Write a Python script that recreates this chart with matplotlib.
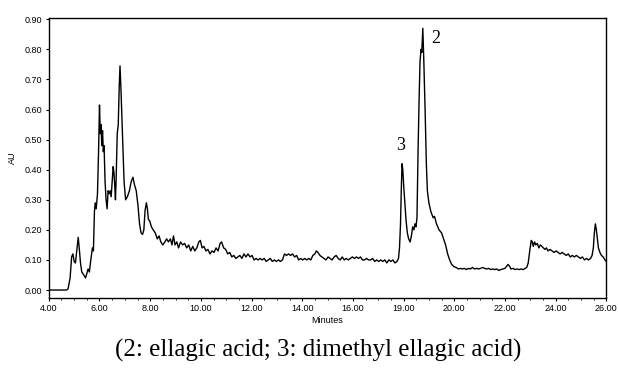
import matplotlib
matplotlib.use('Agg')
import matplotlib.pyplot as plt
from matplotlib.ticker import MultipleLocator

# retention time (min) and absorbance (AU)
minutes = [4.00, 4.70, 4.76, 4.84, 4.90, 4.95, 5.00, 5.05, 5.10, 5.16, 5.20, 5.25,
           5.30, 5.38, 5.45, 5.50, 5.55, 5.60, 5.65, 5.72, 5.76, 5.80, 5.83, 5.87,
           5.92, 5.96, 6.00, 6.03, 6.06, 6.09, 6.12, 6.15, 6.18, 6.22, 6.26, 6.30,
           6.34, 6.38, 6.42, 6.46, 6.50, 6.54, 6.57, 6.60, 6.63, 6.66, 6.70, 6.74,
           6.78, 6.81, 6.85, 6.89, 6.93, 6.97, 7.03, 7.10, 7.18, 7.25, 7.32, 7.38,
           7.45, 7.52, 7.58, 7.64, 7.70, 7.75, 7.80, 7.85, 7.89, 7.93, 7.98, 8.05,
           8.12, 8.20, 8.28, 8.35, 8.42, 8.50, 8.58, 8.65, 8.72, 8.80, 8.86, 8.92,
           8.98, 9.05, 9.12, 9.20, 9.28, 9.36, 9.44, 9.52, 9.60, 9.68, 9.76, 9.84,
           9.92, 9.98, 10.05, 10.12, 10.20, 10.28, 10.36, 10.44, 10.52, 10.60, 10.68,
           10.76, 10.82, 10.90, 10.98, 11.06, 11.14, 11.22, 11.30, 11.38, 11.46,
           11.54, 11.62, 11.70, 11.78, 11.86, 11.94, 12.02, 12.10, 12.18, 12.26,
           12.34, 12.42, 12.50, 12.58, 12.66, 12.74, 12.82, 12.90, 12.98, 13.06,
           13.14, 13.22, 13.30, 13.38, 13.46, 13.54, 13.62, 13.70, 13.78, 13.86,
           13.94, 14.02, 14.10, 14.18, 14.26, 14.34, 14.42, 14.50, 14.56, 14.62,
           14.70, 14.78, 14.86, 14.94, 15.02, 15.10, 15.18, 15.26, 15.34, 15.42,
           15.50, 15.58, 15.66, 15.74, 15.82, 15.90, 15.98, 16.06, 16.14, 16.22,
           16.30, 16.38, 16.46, 16.54, 16.62, 16.70, 16.78, 16.86, 16.94, 17.02,
           17.10, 17.18, 17.26, 17.34, 17.42, 17.50, 17.58, 17.66, 17.74, 17.80,
           17.84, 17.88, 17.91, 17.94, 17.97, 18.01, 18.05, 18.10, 18.15, 18.20,
           18.26, 18.31, 18.36, 18.41, 18.45, 18.49, 18.53, 18.57, 18.61, 18.65,
           18.69, 18.72, 18.76, 18.80, 18.85, 18.90, 18.94, 19.00, 19.08, 19.17,
           19.22, 19.30, 19.40, 19.50, 19.58, 19.66, 19.74, 19.82, 19.90, 20.00,
           20.08, 20.16, 20.24, 20.32, 20.40, 20.48, 20.56, 20.64, 20.72, 20.80,
           20.88, 20.96, 21.04, 21.12, 21.20, 21.28, 21.36, 21.44, 21.52, 21.60,
           21.68, 21.76, 21.84, 21.92, 22.00, 22.06, 22.12, 22.18, 22.24, 22.32,
           22.40, 22.48, 22.56, 22.64, 22.72, 22.80, 22.86, 22.92, 22.98, 23.04,
           23.08, 23.12, 23.17, 23.22, 23.28, 23.34, 23.40, 23.46, 23.52, 23.58,
           23.64, 23.70, 23.78, 23.86, 23.94, 24.02, 24.10, 24.18, 24.26, 24.34,
           24.42, 24.50, 24.58, 24.66, 24.74, 24.82, 24.90, 24.98, 25.06, 25.14,
           25.22, 25.30, 25.38, 25.44, 25.49, 25.53, 25.57, 25.61, 25.65, 25.69,
           25.75, 25.81, 25.88, 25.95, 26.00]
au = [0.000, 0.000, 0.004, 0.040, 0.110, 0.120, 0.095, 0.090, 0.130, 0.175, 0.140, 0.090,
      0.060, 0.050, 0.040, 0.055, 0.070, 0.060, 0.095, 0.140, 0.130, 0.260, 0.290, 0.270,
      0.320, 0.450, 0.615, 0.520, 0.550, 0.480, 0.530, 0.460, 0.480, 0.360, 0.300, 0.270,
      0.330, 0.320, 0.330, 0.310, 0.360, 0.410, 0.390, 0.350, 0.300, 0.380, 0.520, 0.550,
      0.680, 0.745, 0.660, 0.560, 0.450, 0.360, 0.300, 0.310, 0.330, 0.360, 0.375, 0.350,
      0.330, 0.280, 0.220, 0.190, 0.185, 0.200, 0.265, 0.290, 0.270, 0.235, 0.230, 0.210,
      0.200, 0.190, 0.170, 0.180, 0.160, 0.150, 0.160, 0.170, 0.160, 0.170, 0.150, 0.180,
      0.150, 0.160, 0.140, 0.160, 0.150, 0.155, 0.140, 0.150, 0.130, 0.145, 0.130, 0.140,
      0.160, 0.165, 0.140, 0.145, 0.130, 0.135, 0.120, 0.130, 0.125, 0.140, 0.130,
      0.155, 0.160, 0.140, 0.135, 0.120, 0.125, 0.110, 0.115, 0.105, 0.110,
      0.115, 0.105, 0.120, 0.110, 0.120, 0.110, 0.115, 0.100, 0.105, 0.100,
      0.105, 0.100, 0.105, 0.095, 0.100, 0.105, 0.095, 0.100, 0.095, 0.100,
      0.095, 0.100, 0.120, 0.115, 0.120, 0.115, 0.120, 0.110, 0.115, 0.100,
      0.105, 0.100, 0.105, 0.100, 0.105, 0.100, 0.115, 0.120, 0.130, 0.125,
      0.115, 0.110, 0.105, 0.100, 0.110, 0.105, 0.100, 0.110, 0.115, 0.105,
      0.100, 0.110, 0.100, 0.105, 0.100, 0.105, 0.110, 0.105, 0.110, 0.105,
      0.110, 0.100, 0.100, 0.105, 0.100, 0.100, 0.105, 0.095, 0.100, 0.095,
      0.100, 0.095, 0.100, 0.090, 0.100, 0.095, 0.100, 0.090, 0.095, 0.105,
      0.140, 0.220, 0.330, 0.420, 0.400, 0.340, 0.290, 0.230, 0.190, 0.170,
      0.160, 0.180, 0.210, 0.200, 0.220, 0.210, 0.240, 0.450, 0.620, 0.760,
      0.800, 0.790, 0.870, 0.760, 0.600, 0.420, 0.330, 0.290, 0.260, 0.240,
      0.245, 0.220, 0.200, 0.190, 0.170, 0.150, 0.120, 0.100, 0.085, 0.077,
      0.075, 0.070, 0.072, 0.070, 0.072, 0.068, 0.072, 0.070, 0.075, 0.070,
      0.072, 0.070, 0.072, 0.075, 0.072, 0.070, 0.072, 0.068, 0.070, 0.068,
      0.070, 0.065, 0.068, 0.070, 0.072, 0.078, 0.085, 0.080, 0.070, 0.072,
      0.068, 0.070, 0.068, 0.070, 0.068, 0.072, 0.075, 0.090, 0.130, 0.165,
      0.160, 0.145, 0.160, 0.150, 0.155, 0.140, 0.150, 0.145, 0.140, 0.135,
      0.140, 0.130, 0.135, 0.130, 0.125, 0.130, 0.125, 0.120, 0.125, 0.120,
      0.115, 0.120, 0.110, 0.115, 0.110, 0.115, 0.110, 0.105, 0.110, 0.100,
      0.105, 0.100, 0.105, 0.115, 0.140, 0.190, 0.220, 0.200, 0.170, 0.140,
      0.125, 0.115, 0.110, 0.100, 0.095]

x_ticks = [4, 6, 8, 10, 12, 14, 16, 18, 20, 22, 24, 26]
x_labels = ['4.00', '6.00', '8.00', '10.00', '12.00', '14.00', '16.00',
            '19.00', '20.00', '22.00', '24.00', '26.00']
y_ticks = [0.0, 0.1, 0.2, 0.3, 0.4, 0.5, 0.6, 0.7, 0.8, 0.9]

tick_font = ['Liberation Sans Narrow', 'Liberation Sans', 'DejaVu Sans']

fig = plt.figure(figsize=(6.18, 3.69), dpi=100)
ax = fig.add_axes([0.079, 0.192, 0.902, 0.759])
ax.plot(minutes, au, color='black', lw=1.0)

ax.set_xlim(4, 26)
ax.set_ylim(-0.027, 0.904)
ax.set_xticks(x_ticks)
ax.set_xticklabels(x_labels, family=tick_font, fontsize=6.5)
ax.xaxis.set_minor_locator(MultipleLocator(0.5))
ax.set_yticks(y_ticks)
ax.set_yticklabels(['%.2f' % v for v in y_ticks], family=tick_font, fontsize=6.5)
ax.tick_params(length=2.5, width=0.8, pad=2)
ax.tick_params(which='minor', length=1.5, width=0.6)
for s in ax.spines.values():
    s.set_linewidth(1.0)

ax.set_xlabel('Minutes', family=tick_font, fontsize=6.5, labelpad=2)
ax.set_ylabel('AU', family=tick_font, fontsize=6.5, labelpad=6)

# peak labels
ax.text(19.28, 0.837, '2', family='Liberation Serif', fontsize=13,
        ha='center', va='center')
ax.text(17.9, 0.48, '3', family='Liberation Serif', fontsize=13,
        ha='center', va='center')

fig.text(0.515, 0.05, '(2: ellagic acid; 3: dimethyl ellagic acid)',
         family='Liberation Serif', fontsize=18, ha='center', va='center')

fig.savefig('out.png', dpi=100)
